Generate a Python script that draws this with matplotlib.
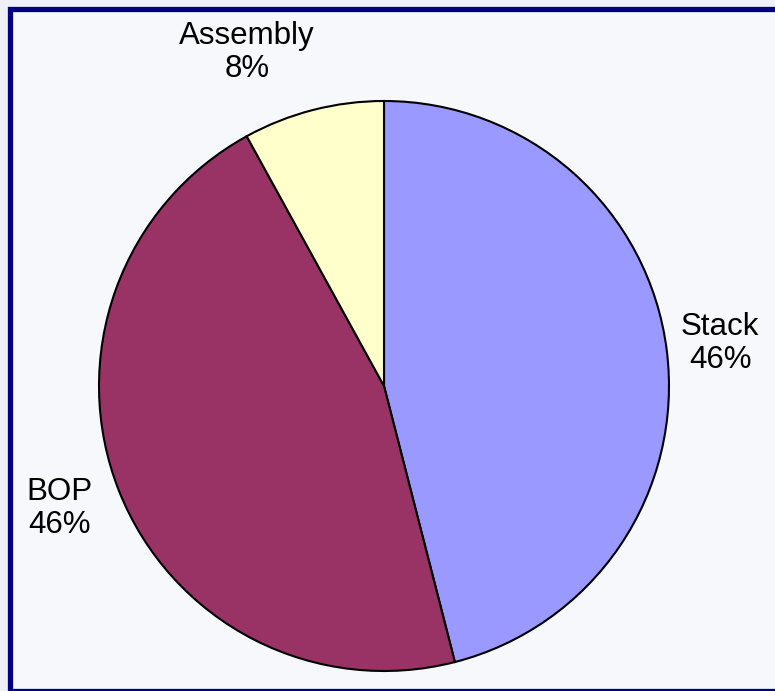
import matplotlib.pyplot as plt
from matplotlib.patches import Rectangle

# pie data
categories = ["Stack", "BOP", "Assembly"]
shares = [46, 46, 8]
colors = ["#9999FF", "#993366", "#FFFFCC"]

# where the data labels sit (in pie radius units)
label_pos = [(1.18, 0.15), (-1.14, -0.43), (-0.48, 1.17)]

W, H = 775, 691
fig = plt.figure(figsize=(W / 100, H / 100), dpi=100)
fig.patch.set_facecolor("#eef0f6")

ax = fig.add_axes([0, 0, 1, 1])
ax.set_facecolor("none")

# navy frame with light panel, behind the pie
frame = Rectangle((10 / W, 0.5 / H), (W + 10) / W, 681.5 / H,
                  transform=fig.transFigure, facecolor="#f7f8fc",
                  edgecolor="#000080", linewidth=3.8, zorder=-10,
                  clip_on=False)
ax.add_patch(frame)

r_px = 285
cx, cy = 384, H - 386
wedges, _ = ax.pie(shares, colors=colors, startangle=90, counterclock=False,
                   wedgeprops=dict(edgecolor="black", linewidth=1.5))

ax.set_xlim(-cx / r_px, (W - cx) / r_px)
ax.set_ylim(-cy / r_px, (H - cy) / r_px)
ax.set_aspect("auto")
ax.axis("off")

for name, val, (x, y) in zip(categories, shares, label_pos):
    ax.text(x, y, f"{name}\n{val}%", ha="center", va="center",
            fontsize=22.5, family="Liberation Sans", linespacing=1.15)

fig.savefig("out.png", dpi=100, facecolor=fig.get_facecolor())
